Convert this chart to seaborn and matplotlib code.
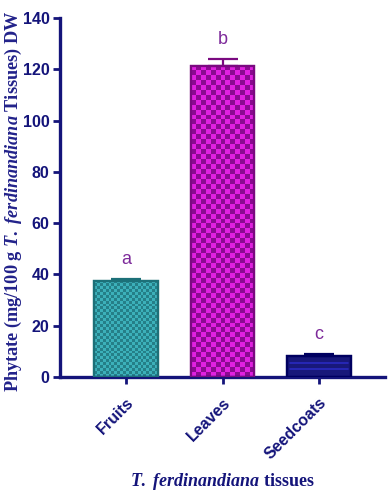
import numpy as np
import pandas as pd
import matplotlib
matplotlib.use("Agg")
import matplotlib.pyplot as plt
import seaborn as sns

categories = ["Fruits", "Leaves", "Seedcoats"]
values = [37.5, 121.5, 8.2]
errors = [0.8, 2.5, 0.8]
letters = ["a", "b", "c"]
yticks = [0, 20, 40, 60, 80, 100, 120, 140]

sns.set_style("ticks")
plt.rcParams["font.family"] = ["Liberation Sans", "DejaVu Sans"]
plt.rcParams["mathtext.fontset"] = "custom"
plt.rcParams["mathtext.it"] = "Liberation Serif:italic:bold"
plt.rcParams["mathtext.rm"] = "Liberation Serif:bold"

navy = "#14147a"
face = ["#2f9aa4", "#cc10cc", "#08088a"]
edge = ["#1c7078", "#7a0a80", "#000060"]
checker_light = ["#3cb0ba", "#e020e0", "#08088a"]
checker_dark = ["#257f88", "#8a0a90", "#08088a"]
cells = [22, 13, 1]

df = pd.DataFrame({"tissue": categories, "value": values})

fig = plt.figure(figsize=(3.89, 4.92), dpi=100)
ax = fig.add_axes([0.154, 0.234, 0.836, 0.729])

sns.barplot(data=df, x="tissue", y="value", hue="tissue", palette=face,
            width=0.66, errorbar=None, legend=False, ax=ax, zorder=2)

for i, p in enumerate(ax.patches):
    p.set_edgecolor(edge[i])
    p.set_linewidth(1.6)
    x0, y0 = p.get_x(), p.get_y()
    w, h = p.get_width(), p.get_height()
    n = cells[i]
    if n > 1:
        ny = int(round(n * (h / 140 * 359) / 64))
        arr = (np.add.outer(np.arange(ny), np.arange(n)) % 2).astype(float)
        cmap = matplotlib.colors.ListedColormap([checker_light[i], checker_dark[i]])
        im = ax.imshow(arr, extent=[x0, x0 + w, y0, y0 + h], cmap=cmap,
                       aspect="auto", interpolation="nearest", zorder=2.5,
                       origin="lower")
        im.set_clip_path(p)
    else:
        for yy in [3.2, 5.6]:
            ax.plot([x0 + 0.03, x0 + w - 0.03], [yy, yy], color="#2a2ac0",
                    lw=1.2, zorder=2.6)
    q = matplotlib.patches.Rectangle((x0, y0), w, h, fill=False,
                                     edgecolor=edge[i], lw=1.6, zorder=2.7)
    ax.add_patch(q)

xs = np.arange(len(categories))
for i in range(len(categories)):
    ax.errorbar(xs[i], values[i], yerr=[[0], [errors[i]]], fmt="none",
                ecolor=edge[i], elinewidth=1.6, capsize=11, capthick=1.6,
                zorder=2.8)
    ax.text(xs[i], values[i] + errors[i] + 7.5, letters[i], ha="center",
            va="center", color="#7d2a9a", fontsize=13, zorder=3)

ax.set_xlim(-0.684, 2.684)
ax.set_ylim(0, 140)
ax.set_yticks(yticks)
ax.set_yticklabels([str(t) for t in yticks], fontsize=11.5,
                   fontweight="bold", color=navy)
ax.set_xticks(xs)
ax.set_xticklabels(categories, rotation=45, ha="right",
                   rotation_mode="anchor", fontsize=11.5,
                   fontweight="bold", color=navy)
sns.despine(ax=ax)
for s in ["left", "bottom"]:
    ax.spines[s].set_color(navy)
    ax.spines[s].set_linewidth(2.4)
ax.tick_params(axis="both", colors=navy, width=2, length=5, direction="out")
ax.tick_params(axis="x", pad=8)
ax.tick_params(axis="y", pad=2.5)

ax.set_xlabel(r"$T.\ ferdinandiana$ tissues", fontsize=13,
              fontweight="bold", color=navy, family="Liberation Serif",
              labelpad=6)
ylab = ax.set_ylabel(r"Phytate (mg/100 g $T.\ ferdinandiana$ Tissues) DW",
                     fontsize=12, fontweight="bold", color="#22228a",
                     family="Liberation Serif")
# shrink label so that it spans the same height as in the reference
fig.canvas.draw()
bb = ylab.get_window_extent()
target = 380.0
ylab.set_fontsize(12 * target / bb.height)
ax.yaxis.set_label_coords(-0.11, 0.49)

fig.savefig("out.png", dpi=100)
